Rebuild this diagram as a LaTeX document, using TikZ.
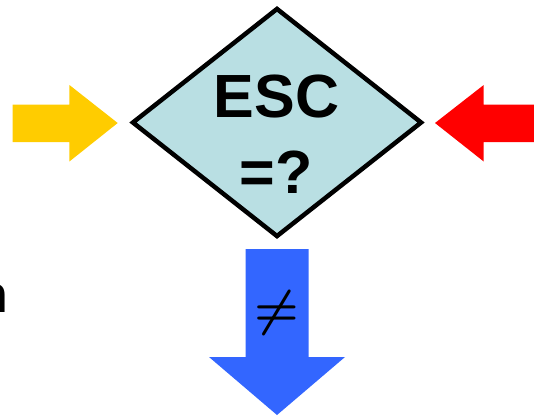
\documentclass[tikz,border=0pt]{standalone}
\usepackage{fontspec}
\usepackage{graphicx}
\setmainfont{Liberation Sans}
\usetikzlibrary{shapes.geometric}
\definecolor{diafill}{HTML}{B9DFE3}
\definecolor{yel}{HTML}{FFCC00}
\definecolor{redarr}{HTML}{FF0000}
\definecolor{bluearr}{HTML}{3366FF}
\newcommand{\bigneq}{\scalebox{5}{\boldmath$\neq$}}
\begin{document}
\begin{tikzpicture}[x=1pt,y=-1pt,
  decision/.style={diamond, draw=black, line width=4.5pt, fill=diafill, inner sep=0pt,
    minimum width=290pt, minimum height=229pt},
  bigtext/.style={font=\bfseries\fontsize{61}{76}\selectfont, inner sep=0pt, anchor=base}
]
\useasboundingbox (0,0) rectangle (534,418);
\clip (0,0) rectangle (534,418);
% diamond
\node[decision] (d) at (277,122.5) {};
\node[bigtext] (esc) at (276.5,117) {ESC};
\node[bigtext] (eq) at (276,193) {=?};
% yellow arrow (from left)
\fill[yel] (12.6,104.5) -- (69.4,104.5) -- (69.4,85) -- (117.7,123) -- (69.4,161.5) -- (69.4,142) -- (12.6,142) -- cycle;
% red arrow (from right)
\fill[redarr] (540,104.5) -- (483.7,104.5) -- (483.7,85) -- (435,123) -- (483.7,161.5) -- (483.7,142) -- (540,142) -- cycle;
% blue arrow (down)
\fill[bluearr] (245.5,249) -- (308.5,249) -- (308.5,357) -- (345,357) -- (277,415) -- (209,357) -- (245.5,357) -- cycle;
\node[inner sep=0pt] (ne) at (277,313) {\bigneq};
% clipped text fragment at left edge
\node[font=\bfseries\fontsize{52}{52}\selectfont, inner sep=0pt, anchor=base east] (frag) at (8,312) {n};
\end{tikzpicture}
\end{document}
